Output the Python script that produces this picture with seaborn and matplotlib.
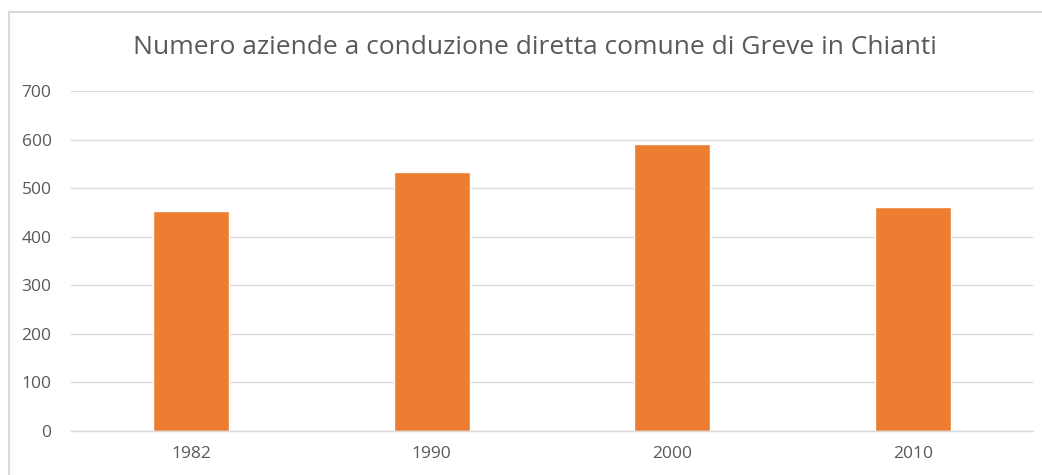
import matplotlib
matplotlib.use("Agg")
import matplotlib.pyplot as plt
from matplotlib.lines import Line2D
import seaborn as sns
import pandas as pd

# Numero aziende a conduzione diretta, comune di Greve in Chianti
years = ["1982", "1990", "2000", "2010"]
aziende = [453, 534, 591, 461]
y_ticks = [0, 100, 200, 300, 400, 500, 600, 700]

title = "Numero aziende a conduzione diretta comune di Greve in Chianti"

bar_color = "#ED7D31"
text_color = "#595959"
grid_color = "#D9D9D9"

sns.set_theme(style="white")
plt.rcParams["font.family"] = ["Open Sans", "DejaVu Sans"]

df = pd.DataFrame({"anno": years, "aziende": aziende})

fig = plt.figure(figsize=(10.42, 4.75), dpi=100)
W, H = 1042, 475
ax = fig.add_axes([71 / W, 1 - 431 / H, (1033 - 71) / W, (431 - 91) / H])

sns.barplot(data=df, x="anno", y="aziende", color=bar_color, width=0.316,
            saturation=1, ax=ax, zorder=3)

ax.set_ylim(0, 700)
ax.set_xlim(-0.5, 3.5)
ax.set_yticks(y_ticks)
ax.set_xlabel("")
ax.set_ylabel("")
ax.yaxis.grid(True, color=grid_color, linewidth=1, zorder=0)
ax.xaxis.grid(False)
for side in ("top", "right", "left"):
    ax.spines[side].set_visible(False)
ax.spines["bottom"].set_color(grid_color)
ax.spines["bottom"].set_linewidth(1)
ax.spines["bottom"].set_zorder(4)
ax.tick_params(axis="y", length=0, pad=14, labelsize=12.5, labelcolor=text_color)
ax.tick_params(axis="x", length=0, pad=11, labelsize=12.5, labelcolor=text_color)

# chart-area frame (left and top edges)
fig.add_artist(Line2D([9 / W, 9 / W], [0, 1 - 12 / H], transform=fig.transFigure,
                      color=grid_color, linewidth=1.5))
fig.add_artist(Line2D([9 / W, 1], [1 - 12 / H, 1 - 12 / H], transform=fig.transFigure,
                      color=grid_color, linewidth=1.5))

fig.text(535 / W, 1 - 47 / H, title, ha="center", va="center",
         fontsize=19, color=text_color)

fig.savefig("out.png", dpi=100, facecolor="white")
